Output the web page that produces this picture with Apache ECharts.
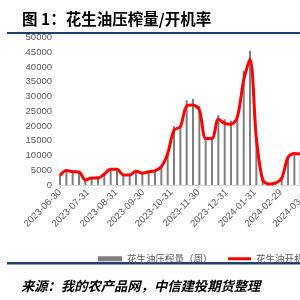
<!DOCTYPE html>
<html>
<head>
<meta charset="utf-8">
<script src="https://cdn.jsdelivr.net/npm/echarts@6/dist/echarts.min.js"></script>
<style>
  html, body { margin: 0; padding: 0; width: 300px; height: 300px; overflow: hidden; background: #fff; }
  #main { width: 400px; height: 300px; }
</style>
</head>
<body>
<div id="main"></div>
<script>
// 周度日期
const weeks = [
  '2023-06-30', '2023-07-07', '2023-07-14', '2023-07-21', '2023-07-28',
  '2023-08-04', '2023-08-11', '2023-08-18', '2023-08-25', '2023-09-01',
  '2023-09-08', '2023-09-15', '2023-09-22', '2023-09-29', '2023-10-06',
  '2023-10-13', '2023-10-20', '2023-10-27', '2023-11-03', '2023-11-10',
  '2023-11-17', '2023-11-24', '2023-12-01', '2023-12-08', '2023-12-15',
  '2023-12-22', '2023-12-29', '2024-01-05', '2024-01-12', '2024-01-19',
  '2024-01-26', '2024-02-02', '2024-02-09', '2024-02-16', '2024-02-23',
  '2024-03-01', '2024-03-08', '2024-03-15', '2024-03-22'
]
// 花生油压榨量（周），吨
const crushVolume = [
  3300, 4900, 4600, 4500, 1800, 2500, 2500, 3800, 5400, 5400,
  3500, 3500, 4800, 4100, 4600, 4900, 6300, 10900, 20000, 20300,
  28800, 29200, 26800, 16000, 16000, 23700, 22300, 21800, 23400, 38700,
  45500, 16000, 1800, 400, 700, 2400, 9600, 10700, 10600
]
// 花生油开机率，%
const runRate = [
  3.2, 4.9, 4.5, 4.4, 1.7, 2.4, 2.4, 3.7, 5.3, 5.3,
  3.4, 3.4, 4.7, 4.0, 4.5, 4.8, 6.2, 10.7, 18.6, 19.8,
  26.8, 27.1, 25.4, 15.8, 15.8, 22.3, 20.9, 20.6, 23.0, 35.6,
  42.6, 15.8, 1.7, 0.3, 0.6, 2.3, 9.4, 10.7, 10.5
]
// x轴刻度（月末）
const monthTicks = [
  '2023-06-30', '2023-07-31', '2023-08-31', '2023-09-30', '2023-10-31',
  '2023-11-30', '2023-12-31', '2024-01-31', '2024-02-29', '2024-03-31',
  '2024-04-30'
]

function toTime (s) {
  const p = s.split('-')
  return new Date(+p[0], +p[1] - 1, +p[2]).getTime()
}
function fmt (t) {
  const d = new Date(t)
  const mm = ('0' + (d.getMonth() + 1)).slice(-2)
  const dd = ('0' + d.getDate()).slice(-2)
  return d.getFullYear() + '-' + mm + '-' + dd
}

const tickValues = monthTicks.map(toTime)
const legendText = { fontFamily: 'Noto Sans CJK SC', fontSize: 9.5, color: '#595959' }

var myChart = echarts.init(document.getElementById('main'))
var option = {
  animation: false,
  backgroundColor: '#fff',
  title: [
    {
      text: '图 1：花生油压榨量/开机率',
      left: 17,
      top: 6,
      textStyle: { fontFamily: 'Noto Sans CJK SC', fontSize: 15.5, fontWeight: 'bold', color: '#000' }
    },
    {
      text: '来源：我的农产品网，中信建投期货整理',
      left: 16,
      top: 274,
      textStyle: { fontFamily: 'Noto Sans CJK SC', fontSize: 13.3, fontWeight: 'bold', fontStyle: 'italic', color: '#000' }
    }
  ],
  graphic: [
    { type: 'rect', shape: { x: 7, y: 32, width: 400, height: 2 }, style: { fill: '#1f3f73' } },
    { type: 'rect', shape: { x: 7, y: 262, width: 400, height: 2.5 }, style: { fill: '#1f3f73' } }
  ],
  legend: [
    {
      left: 93,
      top: 249,
      itemWidth: 24,
      itemHeight: 5,
      icon: 'rect',
      textStyle: legendText,
      data: ['花生油压榨量（周）']
    },
    {
      left: 223,
      top: 249,
      itemWidth: 23,
      itemHeight: 3,
      icon: 'rect',
      textStyle: legendText,
      data: ['花生油开机率']
    }
  ],
  grid: { left: 60, top: 37.5, width: 276, height: 147.5 },
  xAxis: {
    type: 'value',
    min: tickValues[0],
    max: tickValues[tickValues.length - 1],
    axisLine: { lineStyle: { color: '#d9d9d9', width: 1 } },
    axisTick: { show: true, length: 3, customValues: tickValues, lineStyle: { color: '#d9d9d9' } },
    splitLine: { show: false },
    axisLabel: {
      customValues: tickValues,
      rotate: 45,
      margin: 6,
      fontSize: 9.5,
      fontFamily: 'Liberation Sans',
      color: '#595959',
      formatter: function (v) { return fmt(v) }
    }
  },
  yAxis: [
    {
      type: 'value',
      min: 0,
      max: 50000,
      interval: 5000,
      axisLine: { show: false },
      axisTick: { show: false },
      splitLine: { show: false },
      axisLabel: {
        margin: 8,
        fontSize: 9.5,
        fontFamily: 'Liberation Sans',
        color: '#595959',
        formatter: function (v) { return String(v) }
      }
    },
    {
      type: 'value',
      min: 0,
      max: 50,
      interval: 5,
      position: 'right',
      axisLine: { show: false },
      axisTick: { show: false },
      splitLine: { show: false },
      axisLabel: { fontSize: 9, color: '#595959' }
    }
  ],
  series: [
    {
      name: '花生油压榨量（周）',
      type: 'bar',
      yAxisIndex: 0,
      barWidth: 2,
      itemStyle: { color: '#7f7f7f' },
      data: weeks.map((d, i) => [toTime(d), crushVolume[i]])
    },
    {
      name: '花生油开机率',
      type: 'line',
      yAxisIndex: 1,
      smooth: 0.3,
      showSymbol: false,
      symbol: 'none',
      lineStyle: { color: '#ff0000', width: 3 },
      itemStyle: { color: '#ff0000' },
      data: weeks.map((d, i) => [toTime(d), runRate[i]])
    }
  ]
}
myChart.setOption(option)
</script>
</body>
</html>
